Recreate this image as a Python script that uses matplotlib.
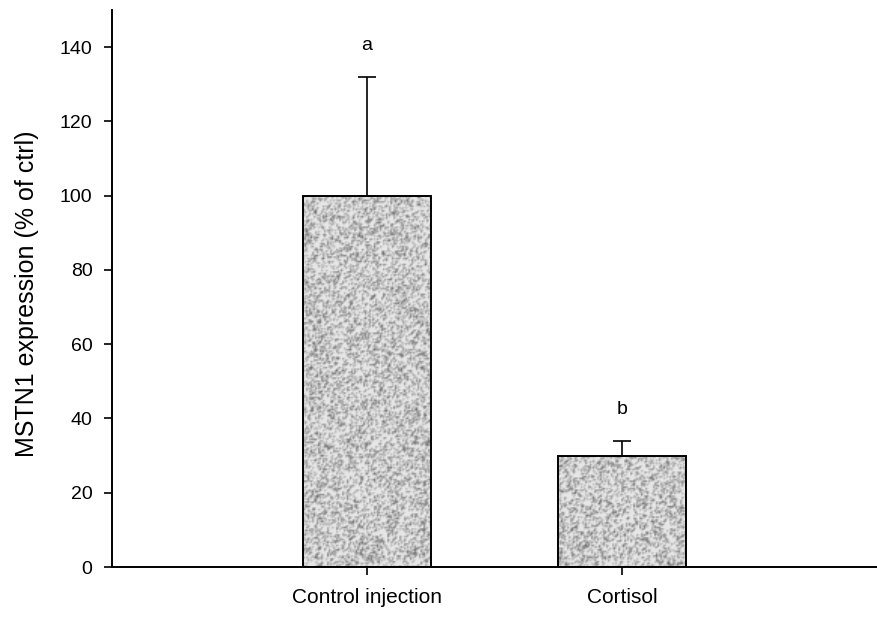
import numpy as np
import matplotlib
matplotlib.use('Agg')
import matplotlib.pyplot as plt

# MSTN1 expression after injection
groups = ['Control injection', 'Cortisol']
means = [100, 30]
errs = [32, 4]
letters = ['a', 'b']
letter_y = [140.5, 42.5]

plt.rcParams['font.family'] = ['Liberation Sans', 'DejaVu Sans']

fig = plt.figure(figsize=(8.77, 6.18), dpi=100)
ax = fig.add_axes([0.1277, 0.0825, 0.8723, 0.9013])

x = np.arange(len(groups)) + 1
bars = ax.bar(x, means, width=0.5, color='none', edgecolor='black', linewidth=1.4, zorder=3)
ax.errorbar(x, means, yerr=[np.zeros(len(errs)), errs], fmt='none', ecolor='black',
            elinewidth=1.2, capsize=6.5, capthick=1.2, zorder=2)

# stippled grey fill, a bit coarser than one cell per pixel
rng = np.random.default_rng(7)
for b in bars:
    rows = int(b.get_height() * 3.72 / 1.5) + 1
    noise = rng.random((rows, 85))
    tex = 0.9 - 0.33 * (noise > 0.68) - 0.15 * (noise > 0.9)
    tex = (2 * tex + np.roll(tex, 1, 0) + np.roll(tex, 1, 1)) / 4
    im = ax.imshow(tex, cmap='gray', vmin=0, vmax=1, aspect='auto', interpolation='bilinear',
                   extent=[b.get_x(), b.get_x() + b.get_width(), 0, b.get_height()], zorder=1)
    im.set_clip_path(b)

for xi, lab, ly in zip(x, letters, letter_y):
    ax.text(xi, ly, lab, ha='center', va='center', fontsize=14)

ax.set_xlim(0, 3)
ax.set_ylim(0, 150)
ax.set_yticks(np.arange(0, 141, 20))
ax.set_xticks(x)
ax.set_xticklabels(groups, fontsize=15)
ax.set_ylabel('MSTN1 expression (% of ctrl)', fontsize=18)
ax.yaxis.set_label_coords(-0.096, 0.49)
ax.tick_params(axis='both', labelsize=14, direction='out', length=6, width=1.2)
ax.tick_params(axis='y', pad=8)
ax.tick_params(axis='x', labelsize=15, pad=9)
for side in ['top', 'right']:
    ax.spines[side].set_visible(False)
for side in ['left', 'bottom']:
    ax.spines[side].set_linewidth(1.4)

fig.savefig('out.png', dpi=100)
